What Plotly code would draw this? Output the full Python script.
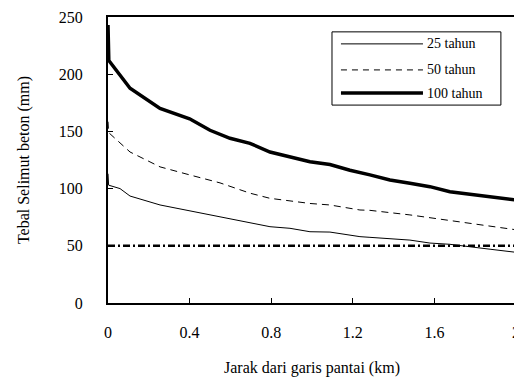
import plotly.graph_objects as go

# distance from coastline (km)
x25 = [0.0, 0.003, 0.059, 0.108, 0.255, 0.40, 0.50, 0.549, 0.696, 0.794, 0.892, 0.99, 1.088, 1.235, 1.284, 1.48, 1.578, 1.676, 1.873, 2.0]
y25 = [113, 103, 100, 93.5, 85.7, 80.5, 77, 75.4, 69.6, 66.7, 65.3, 62.3, 62, 58, 57.4, 55, 52.4, 51.3, 47, 44.3]

x50 = [0.0, 0.003, 0.108, 0.255, 0.40, 0.50, 0.549, 0.696, 0.794, 0.99, 1.088, 1.235, 1.284, 1.48, 1.676, 1.873, 2.0]
y50 = [158.5, 149, 132, 119, 112, 107.5, 105, 96, 91.5, 87, 85.7, 81.3, 81, 77, 72, 67, 64]

x100 = [0.0, 0.004, 0.108, 0.255, 0.40, 0.50, 0.598, 0.696, 0.794, 0.892, 0.99, 1.088, 1.186, 1.284, 1.382, 1.48, 1.578, 1.676, 1.775, 1.873, 2.0]
y100 = [243, 212, 187.7, 170, 161, 151, 144, 139.6, 132, 128, 123.5, 121, 116, 112, 107.5, 104.6, 101.7, 97.3, 95, 93, 90]

x_limit = [0.0, 2.0]
y_limit = [50, 50]

series_names = ["25 tahun", "50 tahun", "100 tahun"]
x_ticks = [0, 0.4, 0.8, 1.2, 1.6, 2]
x_tick_labels = ["0", "0.4", "0.8", "1.2", "1.6", "2"]
y_ticks = [0, 50, 100, 150, 200, 250]

FONT = "Liberation Serif, Times New Roman, serif"

fig = go.Figure()
fig.add_trace(go.Scatter(x=x_limit, y=y_limit, mode="lines",
                         line=dict(color="black", width=2.5, dash="7px,3px,2px,3px"),
                         showlegend=False))
fig.add_trace(go.Scatter(x=x25, y=y25, mode="lines", name=series_names[0],
                         line=dict(color="black", width=1), showlegend=False))
fig.add_trace(go.Scatter(x=x50, y=y50, mode="lines", name=series_names[1],
                         line=dict(color="black", width=1, dash="7px,5px"), showlegend=False))
fig.add_trace(go.Scatter(x=x100, y=y100, mode="lines", name=series_names[2],
                         line=dict(color="black", width=3.5), showlegend=False))

# custom legend (box + samples + labels)
shapes = [dict(type="rect", xref="paper", yref="paper", x0=0.549, x1=0.963, y0=0.692, y1=0.948,
               line=dict(color="black", width=1), fillcolor="white", layer="below")]
legend_y = [0.906, 0.815, 0.734]
legend_styles = [dict(width=1), dict(width=1, dash="6px,5px"), dict(width=3.5)]
annotations = []
for name, ly, st in zip(series_names, legend_y, legend_styles):
    shapes.append(dict(type="line", xref="paper", yref="paper", x0=0.571, x1=0.772, y0=ly, y1=ly,
                       line=dict(color="black", **st)))
    annotations.append(dict(xref="paper", yref="paper", x=0.777, y=ly, text=name, showarrow=False,
                            xanchor="left", yanchor="middle", font=dict(family=FONT, size=14, color="black")))

# page body has an 8px default margin, so the figure is shrunk by 8px on each axis
fig.update_layout(
    width=514, height=377,
    margin=dict(l=100, r=6, t=9, b=82, autoexpand=False),
    plot_bgcolor="white", paper_bgcolor="white",
    font=dict(family=FONT, size=15, color="black"),
    shapes=shapes, annotations=annotations,
    showlegend=False,
)
fig.update_xaxes(range=[0, 2], tickvals=x_ticks, ticktext=x_tick_labels,
                 ticks="inside", ticklen=5, tickcolor="black", ticklabelstandoff=14,
                 ticklabeloverflow="allow",
                 showline=True, linecolor="black", linewidth=2, mirror=True,
                 showgrid=False, zeroline=False, automargin=False,
                 title=dict(text="Jarak dari garis pantai (km)", font=dict(size=16), standoff=22),
                 tickfont=dict(size=16))
fig.update_yaxes(range=[0, 250], tickvals=y_ticks,
                 ticks="inside", ticklen=5, tickcolor="black", ticklabelstandoff=20,
                 ticklabeloverflow="allow",
                 showline=True, linecolor="black", linewidth=2, mirror=True,
                 showgrid=False, zeroline=False, automargin=False,
                 title=dict(text="Tebal Selimut beton (mm)", font=dict(size=16), standoff=25),
                 tickfont=dict(size=16))

fig.write_html("out.html")
